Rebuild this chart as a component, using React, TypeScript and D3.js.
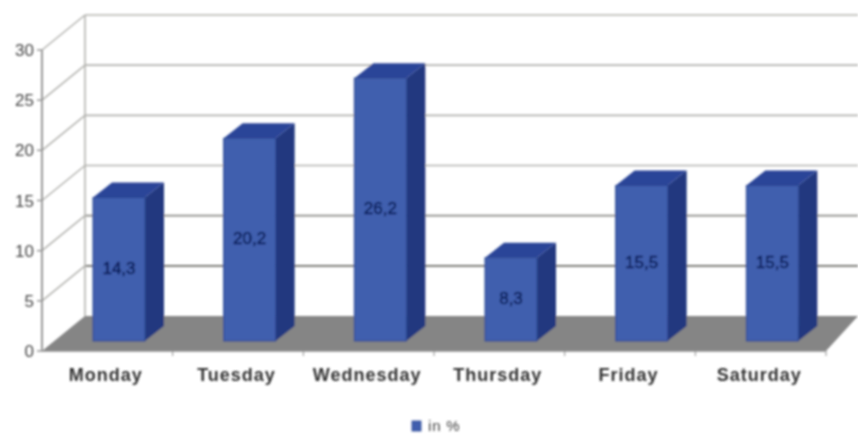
import React from "react";
import * as d3 from "d3";

const categories = ["Monday", "Tuesday", "Wednesday", "Thursday", "Friday", "Saturday"];
const values = [14.3, 20.2, 26.2, 8.3, 15.5, 15.5];
const valueLabels = ["14,3", "20,2", "26,2", "8,3", "15,5", "15,5"];
const yTicks = [0, 5, 10, 15, 20, 25, 30];
const legendLabel = "in %";

const W = 858, H = 439;
const FONT = "'Liberation Sans', Arial, sans-serif";

export default function App() {
  const x = d3.scaleBand<string>().domain(categories).range([42, 826]);
  const yAxis = d3.scaleLinear().domain([0, 30]).range([351, 50]);
  const depthX = 43, depthY = -35;
  const barBase = 341;
  const yBar = d3.scaleLinear().domain([0, 30]).range([barBase, barBase - 301]);
  const barL = 51, barW = 52, bx = 19, by = -15;
  const grid = "#b4b4b0";
  const axis = "#8f8f8f";
  const poly = (pts: number[][]) => pts.map((p) => p.join(",")).join(" ");

  return (
    <svg width={W} height={H} style={{ position: "absolute", left: 0, top: 0, background: "#fff" }}>
      <defs>
        <filter id="soft" x="-5%" y="-5%" width="110%" height="110%">
          <feGaussianBlur stdDeviation="0.8" />
        </filter>
      </defs>
      <g filter="url(#soft)">
        {yTicks.map((t) => (
          <g key={t}>
            {t > 0 && (
              <line x1={42} y1={yAxis(t)} x2={42 + depthX} y2={yAxis(t) + depthY} stroke={grid} strokeWidth={1.6} />
            )}
            {t > 0 && (
              <line x1={42 + depthX} y1={yAxis(t) + depthY} x2={W} y2={yAxis(t) + depthY} stroke={t === 5 ? "#6e6e6a" : t === 10 ? "#8c8c88" : grid} strokeWidth={1.6} />
            )}
            <line x1={37} y1={yAxis(t)} x2={42} y2={yAxis(t)} stroke={axis} strokeWidth={1.4} />
            <text x={34} y={yAxis(t) + 6} textAnchor="end" fontFamily={FONT} fontSize={17} fill="#444">{t}</text>
          </g>
        ))}
        <line x1={42 + depthX} y1={yAxis(30) + depthY} x2={42 + depthX} y2={yAxis(0) + depthY} stroke={grid} strokeWidth={1.6} />
        <polygon
          points={poly([[42, 351], [42 + depthX, 351 + depthY], [W, 351 + depthY], [826, 351]])}
          fill="#858585"
        />
        <line x1={42} y1={yAxis(30)} x2={42} y2={351} stroke={axis} strokeWidth={1.8} />
        <line x1={42} y1={351} x2={826} y2={351} stroke={axis} strokeWidth={1.6} />
        {categories.map((c) => {
          const left = x(c)!;
          return (
            <line key={c} x1={left + x.bandwidth()} y1={351} x2={left + x.bandwidth()} y2={356} stroke={axis} strokeWidth={1} />
          );
        })}
        {categories.map((c, i) => {
          const l = x(c)! + barL;
          const r = l + barW;
          const top = yBar(values[i]);
          return (
            <g key={c}>
              <polygon points={poly([[r, barBase], [r + bx, barBase + by], [r + bx, top + by], [r, top]])} fill="#22387f" />
              <polygon points={poly([[l, top], [l + bx, top + by], [r + bx, top + by], [r, top]])} fill="#2b4598" />
              <rect x={l} y={top} width={barW} height={barBase - top} fill="#3f5fae" stroke="#2c4692" strokeWidth={1} />
              <text x={l + barW / 2} y={(top + barBase) / 2 + 4.5} textAnchor="middle" fontFamily={FONT} fontSize={17} fill="#0a1f5c" stroke="#0a1f5c" strokeWidth={0.5}>
                {valueLabels[i]}
              </text>
              <text x={x(c)! + x.bandwidth() / 2 - 1.5} y={381} textAnchor="middle" fontFamily={FONT} fontWeight="bold" fontSize={18} letterSpacing={1} fill="#333">
                {c}
              </text>
            </g>
          );
        })}
        <rect x={412} y={421} width={9} height={10} fill="#3f5fae" stroke="#2c4692" strokeWidth={0.8} />
        <text x={428} y={431} fontFamily={FONT} fontSize={15} letterSpacing={0.8} fill="#444">{legendLabel}</text>
      </g>
    </svg>
  );
}
